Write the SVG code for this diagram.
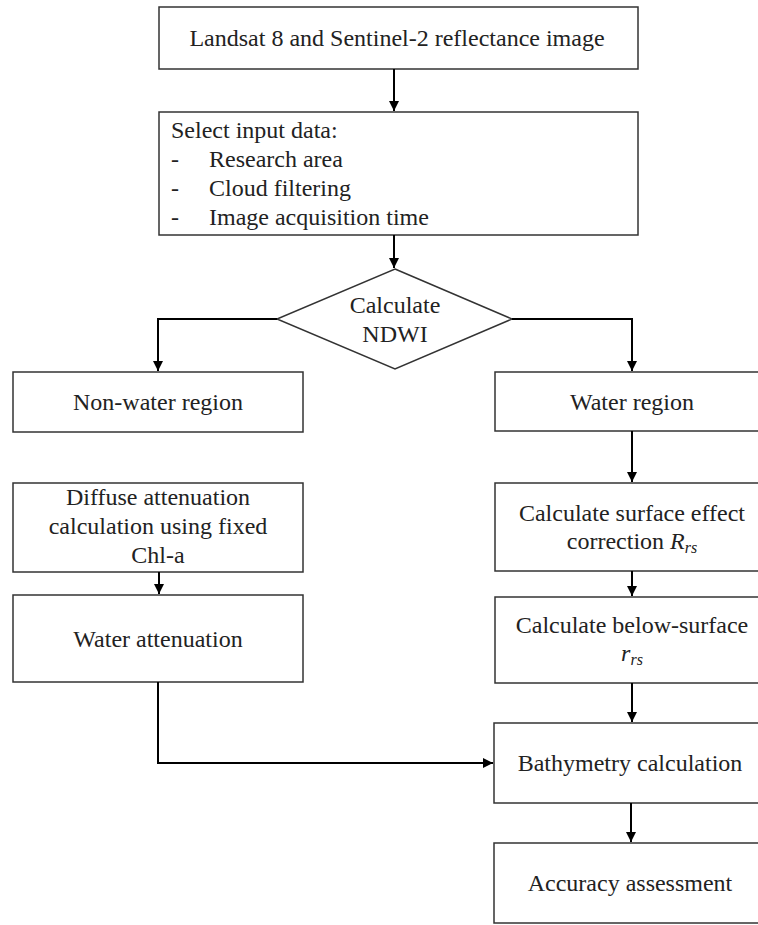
<svg xmlns="http://www.w3.org/2000/svg" width="758" height="925" viewBox="0 0 758 925">
<defs>
<marker id="ah" viewBox="0 0 10 10" refX="10" refY="5" markerWidth="5" markerHeight="5" orient="auto" markerUnits="strokeWidth">
<path d="M0,0 L10,5 L0,10 z" fill="#000"/>
</marker>
<style>
.box{fill:#fff;stroke:#333;stroke-width:1.5}
.t{font-family:"Liberation Serif","Times New Roman",serif;font-size:24px;fill:#222}
.c{text-anchor:middle}
.m{font-style:italic}
.conn{fill:none;stroke:#000;stroke-width:2}
</style>
</defs>
<rect width="758" height="925" fill="#fff"/>
<g id="n1">
<rect class="box" x="159" y="7" width="479" height="62"/>
<text class="t c" x="397" y="46">Landsat 8 and Sentinel-2 reflectance image</text>
</g>
<g id="n2">
<rect class="box" x="159" y="112" width="479" height="123"/>
<text class="t" x="171" y="138">Select input data:</text>
<text class="t" x="171" y="167">-</text><text class="t" x="209" y="167">Research area</text>
<text class="t" x="171" y="196">-</text><text class="t" x="209" y="196">Cloud filtering</text>
<text class="t" x="171" y="225">-</text><text class="t" x="209" y="225">Image acquisition time</text>
</g>
<g id="n3">
<polygon class="box" points="395,269 512,319 395,369 277,319"/>
<text class="t c" x="395" y="313">Calculate</text>
<text class="t c" x="395" y="342">NDWI</text>
</g>
<g id="n4">
<rect class="box" x="13" y="372" width="290" height="60"/>
<text class="t c" x="158" y="410">Non-water region</text>
</g>
<g id="n5">
<rect class="box" x="495" y="372" width="275" height="59"/>
<text class="t c" x="632" y="410">Water region</text>
</g>
<g id="n6">
<rect class="box" x="13" y="483" width="290" height="89"/>
<text class="t c" x="158" y="505">Diffuse attenuation</text>
<text class="t c" x="158" y="534">calculation using fixed</text>
<text class="t c" x="158" y="563">Chl-a</text>
</g>
<g id="n7">
<rect class="box" x="13" y="595" width="290" height="87"/>
<text class="t c" x="158" y="647">Water attenuation</text>
</g>
<g id="n8">
<rect class="box" x="495" y="483" width="275" height="88"/>
<text class="t c" x="632" y="521">Calculate surface effect</text>
<text class="t c" x="632" y="549">correction <tspan class="m">R</tspan><tspan class="m" font-size="16" dy="4">rs</tspan></text>
</g>
<g id="n9">
<rect class="box" x="495" y="597" width="275" height="86"/>
<text class="t c" x="632" y="633">Calculate below-surface</text>
<text class="t c" x="632" y="661"><tspan class="m">r</tspan><tspan class="m" font-size="16" dy="4">rs</tspan></text>
</g>
<g id="n10">
<rect class="box" x="494" y="723" width="276" height="80"/>
<text class="t c" x="630" y="771">Bathymetry calculation</text>
</g>
<g id="n11">
<rect class="box" x="494" y="843" width="276" height="80"/>
<text class="t c" x="630" y="891">Accuracy assessment</text>
</g>
<g id="connectors">
<path class="conn" d="M394,69 V111" marker-end="url(#ah)"/>
<path class="conn" d="M394,235 V268" marker-end="url(#ah)"/>
<path class="conn" d="M277,319 H158 V371" marker-end="url(#ah)"/>
<path class="conn" d="M512,319 H632 V371" marker-end="url(#ah)"/>
<path class="conn" d="M632,431 V482" marker-end="url(#ah)"/>
<path class="conn" d="M159,572 V594" marker-end="url(#ah)"/>
<path class="conn" d="M632,571 V596" marker-end="url(#ah)"/>
<path class="conn" d="M632,683 V722" marker-end="url(#ah)"/>
<path class="conn" d="M158,682 V763 H493" marker-end="url(#ah)"/>
<path class="conn" d="M631,803 V842" marker-end="url(#ah)"/>
</g>
</svg>
